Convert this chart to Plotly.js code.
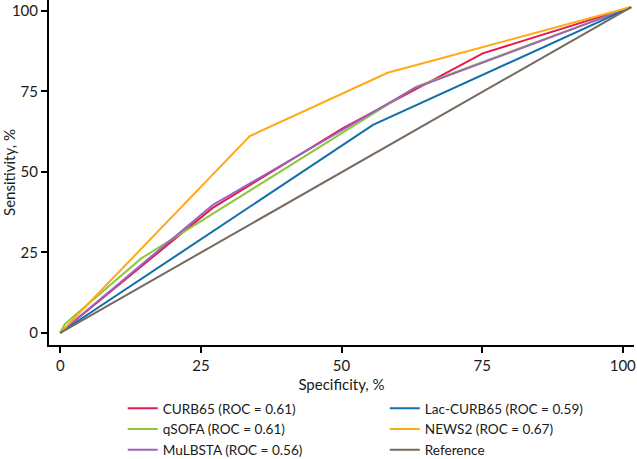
<!DOCTYPE html>
<html>
<head>
<meta charset="utf-8">
<script src="https://cdn.plot.ly/plotly-3.0.1.min.js"></script>
<style>html,body{margin:0;padding:0;background:#fff;}#chart{width:637px;height:459px;}</style>
</head>
<body>
<div id="chart"></div>
<script>
// Data (x = specificity axis %, y = sensitivity %)
const curb65X = [0, 27.1, 50.2, 75.1, 101.5];
const curb65Y = [0, 38.8, 63.5, 86.8, 101.2];
const qsofaX = [0, 0.8, 14.4, 63.3, 101.5];
const qsofaY = [0, 2.7, 23.1, 76.5, 101.2];
const mulbstaX = [0, 27.1, 63, 101.5];
const mulbstaY = [0, 39.7, 76, 101.2];
const lacX = [0, 55.6, 101.5];
const lacY = [0, 64.6, 101.2];
const news2X = [0, 33.7, 58.2, 101.5];
const news2Y = [0, 61.1, 80.8, 101.2];
const refX = [0, 101.5];
const refY = [0, 101.2];

const names = ["CURB65 (ROC = 0.61)", "qSOFA (ROC = 0.61)", "MuLBSTA (ROC = 0.56)",
               "Lac-CURB65 (ROC = 0.59)", "NEWS2 (ROC = 0.67)", "Reference"];
const colors = ["#E5194E", "#8CC83C", "#9B62BE", "#106EAA", "#FFAA14", "#766A5E"];
const tickVals = [0, 25, 50, 75, 100];

const series = [
  [curb65X, curb65Y, "legend"],
  [qsofaX, qsofaY, "legend"],
  [mulbstaX, mulbstaY, "legend"],
  [lacX, lacY, "legend2"],
  [news2X, news2Y, "legend2"],
  [refX, refY, "legend2"]
];

const traces = series.map((s, i) => ({
  x: s[0], y: s[1], type: "scatter", mode: "lines", name: names[i],
  legend: s[2],
  line: {color: colors[i], width: 2}
}));

const fontFamily = "Lato, 'Open Sans', sans-serif";
const tickFont = {family: fontFamily, size: 15, color: "#1a1a1a"};
const legendFont = {family: fontFamily, size: 13.6, color: "#1a1a1a"};
const axisCommon = {
  showgrid: false, zeroline: false, showline: true, linecolor: "#000", linewidth: 2,
  ticks: "outside", ticklen: 6, tickwidth: 2, tickcolor: "#000", automargin: false,
  tickvals: tickVals, ticktext: tickVals.map(String), tickfont: tickFont
};

const layout = {
  width: 637, height: 459,
  margin: {l: 49, r: 3, t: 0, b: 114, autoexpand: false},
  paper_bgcolor: "#fff", plot_bgcolor: "#fff",
  font: legendFont,
  showlegend: true,
  xaxis: Object.assign({}, axisCommon, {range: [-2, 102],
    title: {text: "Specificity, %", font: tickFont, standoff: 8}}),
  yaxis: Object.assign({}, axisCommon, {range: [-3.8, 103.4],
    title: {text: "Sensitivity, %", font: tickFont, standoff: 6}}),
  legend: {x: 0.126, xanchor: "left", yref: "container", y: 0.1438, yanchor: "top",
    orientation: "v", font: legendFont, bgcolor: "rgba(0,0,0,0)", traceorder: "normal"},
  legend2: {x: 0.574, xanchor: "left", yref: "container", y: 0.1438, yanchor: "top",
    orientation: "v", font: legendFont, bgcolor: "rgba(0,0,0,0)", traceorder: "normal"}
};

Plotly.newPlot("chart", traces, layout, {displayModeBar: false, staticPlot: true});
</script>
</body>
</html>
